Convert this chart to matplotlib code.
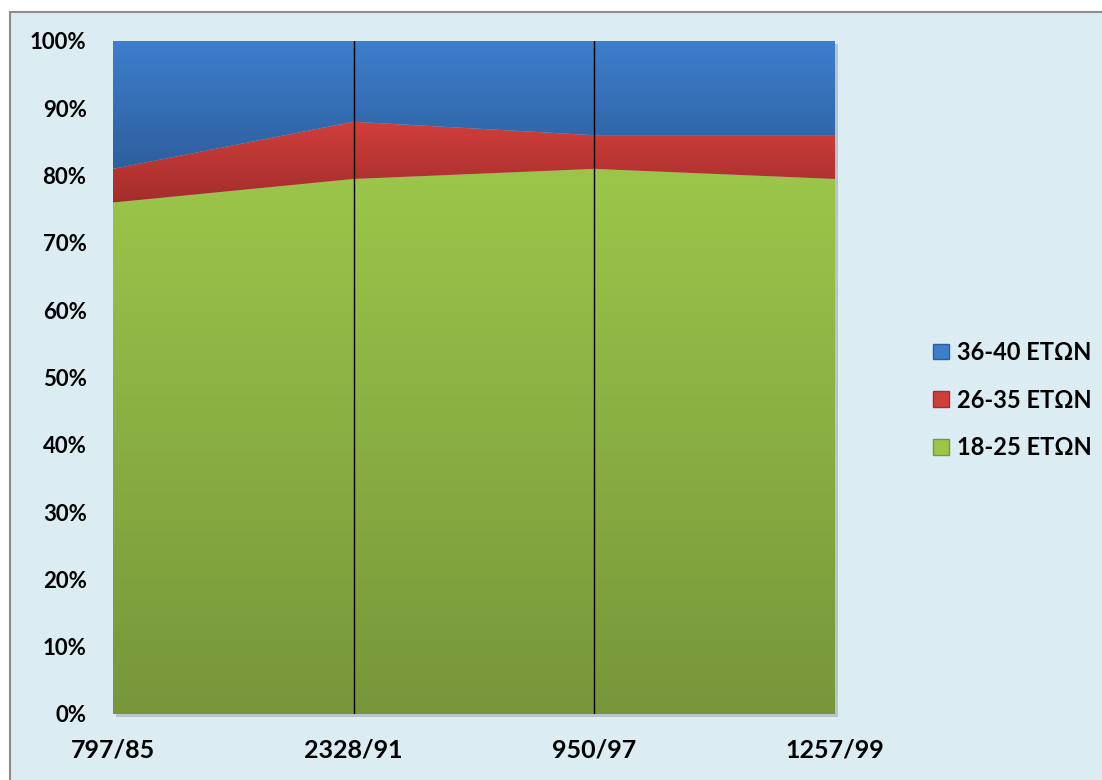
import numpy as np
import matplotlib.pyplot as plt
from matplotlib.colors import LinearSegmentedColormap
from matplotlib.patches import Rectangle, Patch

# categories and stacked percentages
categories = ['797/85', '2328/91', '950/97', '1257/99']
age_18_25 = [76.0, 79.5, 81.0, 79.5]
age_26_35 = [5.0, 8.5, 5.0, 6.5]
age_36_40 = [19.0, 12.0, 14.0, 14.0]

labels = ['18-25 ΕΤΩΝ', '26-35 ΕΤΩΝ', '36-40 ΕΤΩΝ']
grads = [('#77963a', '#9cc64a'), ('#a22d2b', '#d03e3b'), ('#2d5f9d', '#3d7ecd')]

plt.rcParams['font.family'] = ['Lato', 'DejaVu Sans']
plt.rcParams['font.weight'] = 'bold'

fig = plt.figure(figsize=(11.02, 7.80), dpi=100)
fig.patch.set_facecolor('white')
# light blue chart frame
fig.patches.append(Rectangle((10 / 1102, -0.05), 1.1, 1 - 12 / 780 + 0.05,
                             transform=fig.transFigure, facecolor='#dbedf3',
                             edgecolor='#8c8c8c', linewidth=1.5, zorder=0))

ax = fig.add_axes([113 / 1102, 1 - 714 / 780, 722 / 1102, 673 / 780])
ax.set_facecolor('none')
# soft shadow behind plot area
fig.patches.append(Rectangle((116 / 1102, 1 - 717 / 780), 722 / 1102, 673 / 780,
                             transform=fig.transFigure, facecolor='#b8c4c8',
                             edgecolor='none', zorder=0.5))
ax.set_zorder(1)

x = np.arange(len(categories))
series = [age_18_25, age_26_35, age_36_40]
lower = np.zeros(len(x))
for vals, (c0, c1), lab in zip(series, grads, labels):
    upper = lower + np.array(vals)
    poly = ax.fill_between(x, lower, upper, color='none', linewidth=0)
    cmap = LinearSegmentedColormap.from_list(lab, [c0, c1])
    grad = np.linspace(0, 1, 256).reshape(-1, 1)
    im = ax.imshow(grad, extent=[x[0], x[-1], lower.min(), upper.max()],
                   origin='lower', aspect='auto', cmap=cmap, zorder=1)
    im.set_clip_path(poly.get_paths()[0], transform=ax.transData)
    lower = upper

for xv in x[1:-1]:
    ax.axvline(xv, color='black', linewidth=1, zorder=3)

ax.set_xlim(x[0], x[-1])
ax.set_ylim(0, 100)
ax.set_yticks(np.arange(0, 101, 10))
ax.set_yticklabels([f'{v}%' for v in range(0, 101, 10)])
ax.set_xticks(x)
ax.set_xticklabels(categories)
ax.tick_params(axis='y', length=0, pad=19, labelsize=16)
ax.tick_params(axis='x', length=0, pad=18, labelsize=18)
for s in ax.spines.values():
    s.set_visible(False)

handles = [Patch(facecolor=grads[i][1], edgecolor=grads[i][0], label=labels[i])
           for i in (2, 1, 0)]
fig.legend(handles=handles, loc='center left', bbox_to_anchor=(912 / 1102, 1 - 400 / 780),
           frameon=False, fontsize=17, handlelength=0.65, handleheight=0.65,
           handletextpad=0.35, labelspacing=1.05)

fig.savefig('out.png', dpi=100)
